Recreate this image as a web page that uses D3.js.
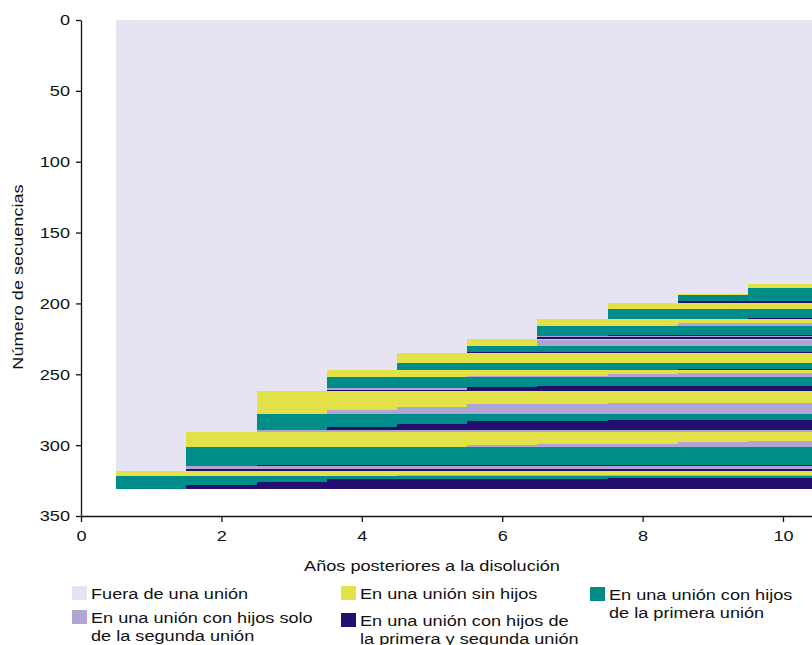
<!DOCTYPE html>
<html>
<head>
<meta charset="utf-8">
<script src="https://cdn.jsdelivr.net/npm/d3@7"></script>
<style>
  body { margin: 0; background: #fff; }
  text { font-family: "Liberation Sans", Arial, Helvetica, sans-serif; fill: #111; }
</style>
</head>
<body>
<svg id="chart" width="812" height="645"></svg>
<script>
// Years after the dissolution shown on the x axis
const years = [1, 2, 3, 4, 5, 6, 7, 8, 9, 10];

// Union states (codes 0-4 used in the sequences below)
const stateLabels = [
  ["Fuera de una unión"],
  ["En una unión sin hijos"],
  ["En una unión con hijos", "de la primera unión"],
  ["En una unión con hijos solo", "de la segunda unión"],
  ["En una unión con hijos de", "la primera y segunda unión"]
];
const stateColors = ["#e6e4f2", "#e3e148", "#008c89", "#b0a5d2", "#230f6e"];

// Sorted sequences: how many individuals share each yearly state path (one digit per year)
const groupCounts = [
  186,
  3, 4,
  1, 4, 2,
  4, 6, 1,
  3, 2, 6, 1, 1, 1,
  1, 4, 4, 1,
  7, 4, 1,
  2, 1, 1, 1, 6, 1, 1, 1, 1,
  8, 1, 2, 2, 3, 4, 1, 2, 2, 2, 2,
  6, 1, 1, 1, 1, 13, 1, 2, 1,
  3, 1, 1, 1, 2, 2, 3
];
const groupSequences = [
  "0000000000",
  "0000000001", "0000000002",
  "0000000012", "0000000022", "0000000044",
  "0000000111", "0000000222", "0000000224",
  "0000001111", "0000001133", "0000002222", "0000002444", "0000003333", "0000004444",
  "0000011111", "0000013333", "0000022222", "0000044444",
  "0000111111", "0000222222", "0000222244",
  "0001111111", "0001111133", "0001111333", "0001133333", "0002222222",
  "0002224444", "0002244444", "0003344444", "0004444444",
  "0011111111", "0011111333", "0011133333", "0011333333", "0013333333",
  "0022222222", "0022222444", "0022244444", "0022444444", "0024444444", "0033333333",
  "0111111111", "0111111113", "0111111133", "0111113333", "0111133333",
  "0222222222", "0244444444", "0333333333", "0444444444",
  "1111111111", "1111333333", "2222222222", "2222222444", "2224444444",
  "2244444444", "2444444444"
];

const xTicks = [0, 2, 4, 6, 8, 10];
const yTicks = [0, 50, 100, 150, 200, 250, 300, 350];

const svg = d3.select("#chart");
const FS = 15.5;      // font size
const SX = 1.17;      // horizontal glyph stretch

const x = d3.scaleLinear().domain([0, 10.5]).range([81, 81 + 70.2 * 10.5]);
const y = d3.scaleLinear().domain([0, 350]).range([20, 516]);

// Build one rectangle per run of equal states inside each group
const cells = [];
let start = 0;
groupCounts.forEach((n, gi) => {
  const seq = groupSequences[gi].split("").map(Number);
  let i = 0;
  while (i < years.length) {
    let j = i;
    while (j + 1 < years.length && seq[j + 1] === seq[i]) j++;
    cells.push({ from: years[i] - 0.5, to: years[j] + 0.5, s0: start, s1: start + n, state: seq[i] });
    i = j + 1;
  }
  start += n;
});

svg.append("g")
  .attr("shape-rendering", "crispEdges")
  .selectAll("rect")
  .data(cells)
  .join("rect")
  .attr("x", d => x(d.from))
  .attr("y", d => y(d.s0))
  .attr("width", d => x(d.to) - x(d.from))
  .attr("height", d => y(d.s1) - y(d.s0))
  .attr("fill", d => stateColors[d.state]);

function stretch(sel) {
  sel.each(function () {
    const t = d3.select(this);
    const x0 = +t.attr("x") || 0;
    t.attr("x", x0 / SX)
     .attr("transform", ((t.attr("transform") || "") + ` scale(${SX},1)`).trim());
  });
}

// Axes
const gx = svg.append("g")
  .attr("transform", `translate(0,${y(350)})`)
  .call(d3.axisBottom(x).tickValues(xTicks).tickFormat(d3.format("d")).tickSize(6).tickPadding(8).tickSizeOuter(0));
const gy = svg.append("g")
  .attr("transform", `translate(${x(0)},0)`)
  .call(d3.axisLeft(y).tickValues(yTicks).tickSize(5).tickPadding(6).tickSizeOuter(0));

[gx, gy].forEach(g => {
  g.selectAll("path, line").attr("stroke", "#111").attr("stroke-width", 1.3);
  g.selectAll("text").attr("font-size", FS).attr("fill", "#111")
    .style("font-family", '"Liberation Sans", Arial, sans-serif');
  stretch(g.selectAll("text"));
});

// Axis titles
svg.append("text")
  .attr("x", 432).attr("y", 571)
  .attr("text-anchor", "middle").attr("font-size", FS)
  .text("Años posteriores a la disolución")
  .call(stretch);

svg.append("text")
  .attr("transform", "translate(23,277) rotate(-90)")
  .attr("text-anchor", "middle").attr("font-size", FS)
  .text("Número de secuencias")
  .call(stretch);

// Legend
const legendPos = [[72, 586], [341, 586], [590, 587], [72, 610], [341, 613]];
const legend = svg.append("g");
stateLabels.forEach((lines, i) => {
  const [lx, ly] = legendPos[i];
  legend.append("rect")
    .attr("x", lx).attr("y", ly).attr("width", 15).attr("height", 14)
    .attr("fill", stateColors[i]);
  lines.forEach((ln, k) => {
    legend.append("text")
      .attr("x", lx + 19).attr("y", ly + 13 + k * 18)
      .attr("font-size", FS)
      .text(ln)
      .call(stretch);
  });
});
</script>
</body>
</html>
